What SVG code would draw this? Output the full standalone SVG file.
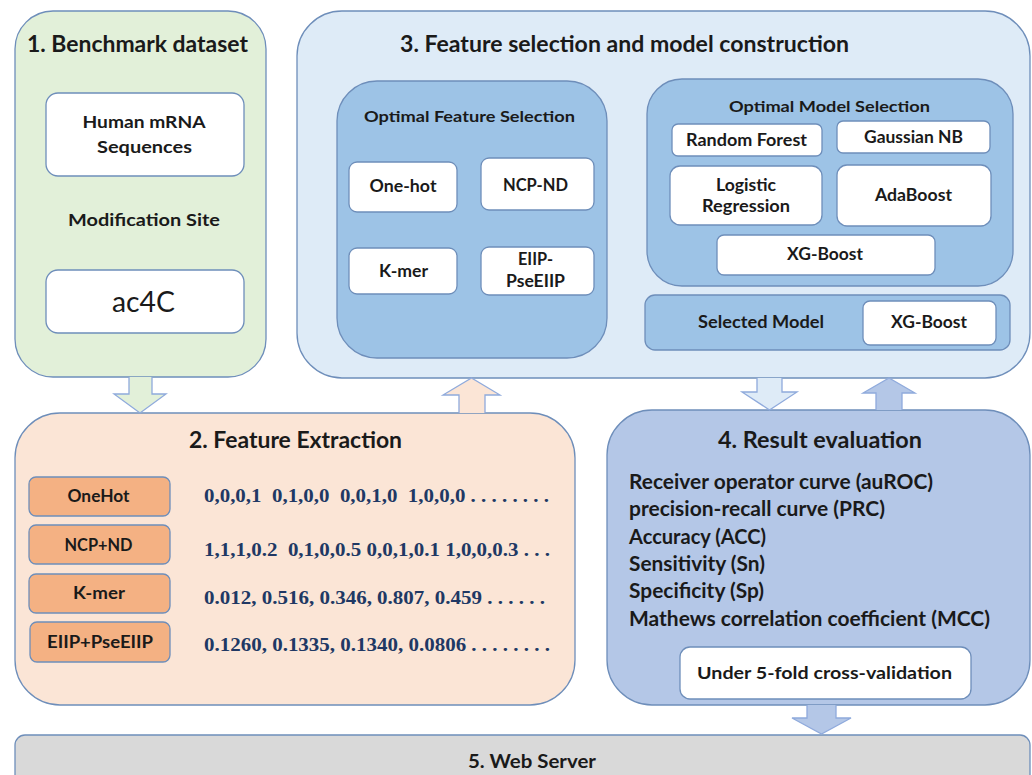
<svg xmlns="http://www.w3.org/2000/svg" width="1032" height="775" viewBox="0 0 1032 775">
<style>
.box{stroke:#6E8EBA;stroke-width:1.3}
.w{fill:#FFFFFF}
.t{font-family:Lato,"Open Sans","Liberation Sans",sans-serif;font-weight:700;fill:#1a1a1a;text-anchor:middle}
.h{font-size:22px}
.s{font-size:16.5px}
.m{font-size:20px;text-anchor:start}
.reg{font-weight:400}
.d{font-family:"Liberation Serif","Times New Roman",serif;font-weight:700;font-size:19px;fill:#203864}
.arr{stroke:#8FAADC;stroke-width:1.3}
</style>
<rect width="1032" height="775" fill="#FFFFFF"/>

<g id="panel1">
<rect class="box" x="15" y="11" width="251" height="366" rx="38" fill="#E2F0D9"/>
<text class="t h" x="137.5" y="52" textLength="221" lengthAdjust="spacingAndGlyphs">1. Benchmark dataset</text>
<g id="human-mrna">
<rect class="box w" x="46" y="93" width="198" height="83" rx="12"/>
<text class="t" font-size="17" x="144" y="128" textLength="123" lengthAdjust="spacingAndGlyphs">Human mRNA</text>
<text class="t" font-size="17" x="144.5" y="153" textLength="95" lengthAdjust="spacingAndGlyphs">Sequences</text>
</g>
<text class="t" font-size="17" x="144" y="226" textLength="152" lengthAdjust="spacingAndGlyphs">Modification Site</text>
<g id="ac4c">
<rect class="box w" x="46" y="270" width="198" height="63" rx="12"/>
<text class="t reg" font-size="28" x="143.5" y="312" textLength="63" lengthAdjust="spacingAndGlyphs">ac4C</text>
</g>
</g>

<g id="panel3">
<rect class="box" x="297" y="11" width="733" height="367" rx="45" fill="#DEEBF7"/>
<text class="t h" x="624.5" y="52" textLength="449" lengthAdjust="spacingAndGlyphs">3. Feature selection and model construction</text>
<g id="optimal-feature">
<rect class="box" x="337" y="81" width="270" height="277" rx="40" fill="#9DC3E6"/>
<text class="t" font-size="16" x="469.5" y="122" textLength="211" lengthAdjust="spacingAndGlyphs">Optimal Feature Selection</text>
<g id="f-onehot"><rect class="box w" x="349" y="162" width="108" height="50" rx="8"/>
<text class="t s" x="403" y="192" textLength="67" lengthAdjust="spacingAndGlyphs">One-hot</text></g>
<g id="f-ncp"><rect class="box w" x="481" y="158" width="113" height="52" rx="8"/>
<text class="t s" x="535.5" y="191" textLength="65" lengthAdjust="spacingAndGlyphs">NCP-ND</text></g>
<g id="f-kmer"><rect class="box w" x="349" y="248" width="108" height="46" rx="8"/>
<text class="t s" x="403.5" y="277" textLength="49" lengthAdjust="spacingAndGlyphs">K-mer</text></g>
<g id="f-eiip"><rect class="box w" x="481" y="247" width="113" height="48" rx="8"/>
<text class="t s" x="535.5" y="265" textLength="35" lengthAdjust="spacingAndGlyphs">EIIP-</text>
<text class="t s" x="535.5" y="287" textLength="59" lengthAdjust="spacingAndGlyphs">PseEIIP</text></g>
</g>
<g id="optimal-model">
<rect class="box" x="647" y="79" width="366" height="207" rx="35" fill="#9DC3E6"/>
<text class="t" font-size="16" x="829.5" y="112" textLength="201" lengthAdjust="spacingAndGlyphs">Optimal Model Selection</text>
<g id="m-rf"><rect class="box w" x="672" y="124" width="150" height="32" rx="6"/>
<text class="t s" x="746.5" y="146" textLength="121" lengthAdjust="spacingAndGlyphs">Random Forest</text></g>
<g id="m-gnb"><rect class="box w" x="837" y="121" width="153" height="32" rx="6"/>
<text class="t s" x="913.5" y="143" textLength="99" lengthAdjust="spacingAndGlyphs">Gaussian NB</text></g>
<g id="m-lr"><rect class="box w" x="670" y="166" width="152" height="59" rx="10"/>
<text class="t s" x="746" y="191" textLength="60" lengthAdjust="spacingAndGlyphs">Logistic</text>
<text class="t s" x="746" y="212" textLength="88" lengthAdjust="spacingAndGlyphs">Regression</text></g>
<g id="m-ada"><rect class="box w" x="837" y="165" width="154" height="61" rx="10"/>
<text class="t s" x="913.5" y="201" textLength="77" lengthAdjust="spacingAndGlyphs">AdaBoost</text></g>
<g id="m-xgb"><rect class="box w" x="717" y="235" width="218" height="40" rx="7"/>
<text class="t s" x="825" y="260" textLength="76" lengthAdjust="spacingAndGlyphs">XG-Boost</text></g>
</g>
<g id="selected-model">
<rect class="box" x="645" y="295" width="365" height="55" rx="10" fill="#9DC3E6"/>
<text class="t s" x="761" y="328" textLength="126" lengthAdjust="spacingAndGlyphs">Selected Model</text>
<g id="sel-xgb"><rect class="box w" x="863" y="301" width="133" height="44" rx="7"/>
<text class="t s" x="929" y="328" textLength="76" lengthAdjust="spacingAndGlyphs">XG-Boost</text></g>
</g>
</g>

<g id="panel2">
<rect class="box" x="15" y="413" width="560" height="292" rx="45" fill="#FBE5D6"/>
<text class="t h" x="295.5" y="448" textLength="213" lengthAdjust="spacingAndGlyphs">2. Feature Extraction</text>
<g id="e-onehot"><rect class="box" x="29" y="477" width="141" height="39" rx="7" fill="#F4B183"/>
<text class="t" font-size="16.5" x="98.5" y="502" textLength="62" lengthAdjust="spacingAndGlyphs">OneHot</text></g>
<g id="e-ncp"><rect class="box" x="29" y="525" width="141" height="39" rx="7" fill="#F4B183"/>
<text class="t" font-size="16.5" x="98.5" y="551" textLength="68" lengthAdjust="spacingAndGlyphs">NCP+ND</text></g>
<g id="e-kmer"><rect class="box" x="29" y="574" width="141" height="39" rx="7" fill="#F4B183"/>
<text class="t" font-size="16.5" x="99" y="599" textLength="52" lengthAdjust="spacingAndGlyphs">K-mer</text></g>
<g id="e-eiip"><rect class="box" x="30" y="622" width="140" height="40" rx="7" fill="#F4B183"/>
<text class="t" font-size="16.5" x="100" y="648" textLength="106" lengthAdjust="spacingAndGlyphs">EIIP+PseEIIP</text></g>
<text class="d" x="204" y="502" xml:space="preserve" textLength="345" lengthAdjust="spacingAndGlyphs">0,0,0,1  0,1,0,0  0,0,1,0  1,0,0,0 . . . . . . . .</text>
<text class="d" x="204" y="556" xml:space="preserve" textLength="346" lengthAdjust="spacingAndGlyphs">1,1,1,0.2  0,1,0,0.5 0,0,1,0.1 1,0,0,0.3 . . .</text>
<text class="d" x="204" y="604" xml:space="preserve" textLength="341" lengthAdjust="spacingAndGlyphs">0.012, 0.516, 0.346, 0.807, 0.459 . . . . . .</text>
<text class="d" x="204" y="651" xml:space="preserve" textLength="346" lengthAdjust="spacingAndGlyphs">0.1260, 0.1335, 0.1340, 0.0806 . . . . . . . .</text>
</g>

<g id="panel4">
<rect class="box" x="607" y="410" width="423" height="295" rx="45" fill="#B4C7E7"/>
<text class="t h" x="820" y="448" textLength="204" lengthAdjust="spacingAndGlyphs">4. Result evaluation</text>
<text class="t m" x="629" y="489" textLength="304" lengthAdjust="spacingAndGlyphs">Receiver operator curve (auROC)</text>
<text class="t m" x="629" y="516" textLength="256" lengthAdjust="spacingAndGlyphs">precision-recall curve (PRC)</text>
<text class="t m" x="629" y="544" textLength="137" lengthAdjust="spacingAndGlyphs">Accuracy (ACC)</text>
<text class="t m" x="629" y="571" textLength="136" lengthAdjust="spacingAndGlyphs">Sensitivity (Sn)</text>
<text class="t m" x="629" y="598" textLength="135" lengthAdjust="spacingAndGlyphs">Specificity (Sp)</text>
<text class="t m" x="629" y="626" textLength="361" lengthAdjust="spacingAndGlyphs">Mathews correlation coefficient (MCC)</text>
<g id="cv"><rect class="box w" x="680" y="647" width="291" height="52" rx="10"/>
<text class="t" font-size="17.5" x="824.5" y="679" textLength="255" lengthAdjust="spacingAndGlyphs">Under 5-fold cross-validation</text></g>
</g>

<g id="panel5">
<rect class="box" x="15" y="735" width="1015" height="60" rx="10" fill="#D9D9D9"/>
<text class="t" font-size="18.5" x="532" y="768" textLength="128" lengthAdjust="spacingAndGlyphs">5. Web Server</text>
</g>

<g id="connectors">
<path class="arr" d="M129,377 V394 H114 L140,413 L166,394 H152 V377" fill="#E2F0D9"/>
<path class="arr" d="M459,413 V395 H443 L471.5,378 L500,395 H485 V413" fill="#FBE5D6"/>
<path class="arr" d="M757,378 V392 H742 L769.5,410 L797,392 H782 V378" fill="#DEEBF7"/>
<path class="arr" d="M876,410 V393 H863 L889,378 L915,393 H902 V410" fill="#B4C7E7"/>
<path class="arr" d="M807,705 V718 H792 L821.5,734 L851,718 H836 V705" fill="#B4C7E7"/>
</g>
</svg>
